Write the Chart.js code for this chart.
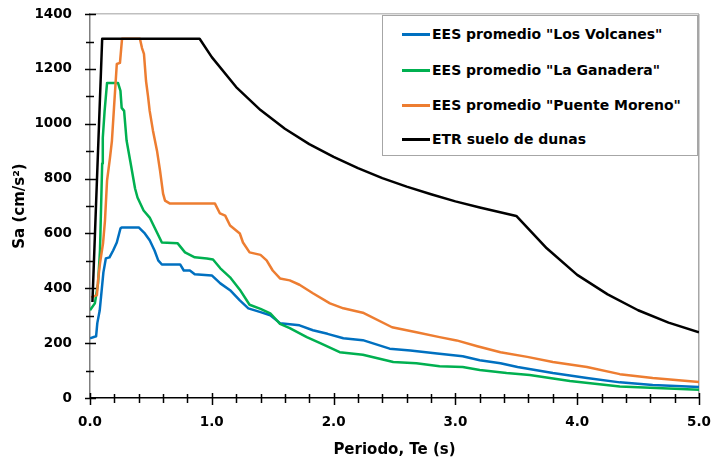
<!DOCTYPE html>
<html>
<head>
<meta charset="utf-8">
<title>Espectros</title>
<script src="https://cdn.jsdelivr.net/npm/chart.js@4.4.1/dist/chart.umd.min.js"></script>
<style>
  body { margin: 0; background: #fff; }
  #wrap { position: relative; width: 711px; height: 465px; }
  .legend {
    position: absolute; left: 382px; top: 15px; width: 316px; height: 141px;
    border: 1px solid #a6a6a6; background: #fff; box-sizing: border-box;
    font: bold 14px "DejaVu Sans"; color: #000;
  }
  .legend .row { position: absolute; left: 19px; height: 20px; line-height: 20px; white-space: nowrap; }
  .legend .sw { display: inline-block; width: 28px; height: 3px; vertical-align: middle; margin-right: 2px; position: relative; top: -1px; }
</style>
</head>
<body>
<div id="wrap">
  <canvas id="chart" width="711" height="465"></canvas>
  <div class="legend">
    <div class="row" style="top:8px"><span class="sw" style="background:#0070c0"></span>EES promedio "Los Volcanes"</div>
    <div class="row" style="top:44px"><span class="sw" style="background:#00b050"></span>EES promedio "La Ganadera"</div>
    <div class="row" style="top:79px"><span class="sw" style="background:#ed7d31"></span>EES promedio "Puente Moreno"</div>
    <div class="row" style="top:113px"><span class="sw" style="background:#000"></span>ETR suelo de dunas</div>
  </div>
</div>
<script>
"use strict"

// ---------------- data ----------------
const labels = ['EES promedio "Los Volcanes"', 'EES promedio "La Ganadera"', 'EES promedio "Puente Moreno"', "ETR suelo de dunas"];

const volcanesT  = [0, 0.05, 0.06, 0.08, 0.11, 0.13, 0.16, 0.19, 0.22, 0.25, 0.26, 0.40, 0.45, 0.49, 0.53, 0.56, 0.59, 0.74, 0.77, 0.82, 0.86, 1.0, 1.07, 1.15, 1.23, 1.30, 1.40, 1.48, 1.56, 1.72, 1.83, 1.95, 2.08, 2.24, 2.46, 2.63, 2.85, 3.06, 3.2, 3.37, 3.51, 3.8, 4.08, 4.35, 4.62, 5.0];
const volcanesSa = [218, 225, 273, 320, 458, 509, 513, 538, 567, 618, 622, 622, 600, 575, 538, 502, 487, 487, 465, 465, 451, 447, 418, 393, 356, 327, 313, 302, 273, 265, 247, 234, 218, 211, 180, 173, 162, 152, 138, 127, 113, 91, 73, 57, 47, 40];

const ganaderaT  = [0, 0.04, 0.066, 0.082, 0.1, 0.105, 0.12, 0.14, 0.23, 0.25, 0.26, 0.28, 0.30, 0.33, 0.37, 0.39, 0.44, 0.49, 0.53, 0.59, 0.72, 0.78, 0.86, 0.96, 1.01, 1.07, 1.15, 1.23, 1.31, 1.40, 1.48, 1.56, 1.64, 1.78, 1.89, 2.05, 2.24, 2.49, 2.68, 2.87, 3.06, 3.2, 3.42, 3.61, 3.94, 4.35, 5.0];
const ganaderaSa = [320, 345, 418, 538, 855, 949, 1047, 1149, 1149, 1120, 1058, 1047, 940, 865, 764, 731, 684, 658, 622, 567, 564, 531, 513, 509, 505, 473, 440, 395, 340, 325, 309, 270, 255, 222, 200, 167, 158, 131, 127, 116, 113, 102, 91, 84, 62, 42, 30];

const morenoT  = [0.01, 0.057, 0.066, 0.082, 0.107, 0.123, 0.14, 0.164, 0.18, 0.197, 0.22, 0.246, 0.263, 0.41, 0.427, 0.443, 0.46, 0.476, 0.49, 0.517, 0.55, 0.575, 0.6, 0.616, 0.657, 1.026, 1.067, 1.11, 1.15, 1.23, 1.256, 1.31, 1.40, 1.45, 1.50, 1.56, 1.64, 1.72, 1.83, 1.97, 2.08, 2.24, 2.48, 2.68, 2.87, 3.01, 3.18, 3.37, 3.59, 3.8, 4.08, 4.35, 4.62, 5.0];
const morenoSa = [367, 375, 429, 491, 564, 647, 793, 876, 938, 1058, 1218, 1222, 1310, 1310, 1276, 1255, 1156, 1102, 1047, 975, 902, 829, 745, 720, 709, 709, 673, 665, 629, 600, 567, 531, 522, 502, 465, 436, 429, 413, 382, 345, 327, 311, 258, 240, 222, 210, 189, 167, 150, 131, 113, 87, 73, 58];

const etrT  = [0.02, 0.1, 0.9, 1.0, 1.2, 1.4, 1.6, 1.8, 2.0, 2.2, 2.4, 2.6, 2.8, 3.0, 3.2, 3.5, 3.75, 4.0, 4.25, 4.5, 4.75, 5.0];
const etrSa = [350, 1310, 1310, 1243, 1134, 1050, 982, 926, 879, 838, 802, 771, 743, 717, 695, 664, 546, 449, 378, 320, 275, 240];

const colors = ["#0070c0", "#00b050", "#ed7d31", "#000000"];

const fontFamily = "DejaVu Sans";

const toPoints = (t, sa) => t.map((x, i) => ({ x: x, y: sa[i] }));
const isWhole = (v) => Math.abs(v - Math.round(v)) < 1e-6;

// Excel-like tick marks that cross the axis lines
const crossTicks = {
  id: "crossTicks",
  afterDraw(chart) {
    const ctx = chart.ctx;
    const xs = chart.scales.x;
    const ys = chart.scales.y;
    ctx.save();
    ctx.strokeStyle = "#000";
    ctx.lineWidth = 1.5;
    xs.ticks.forEach((t) => {
      const px = Math.round(xs.getPixelForValue(t.value)) + 0.5;
      const up = isWhole(t.value) ? 5 : 4;
      const down = isWhole(t.value) ? 7 : 5;
      ctx.beginPath();
      ctx.moveTo(px, xs.top - up);
      ctx.lineTo(px, xs.top + down);
      ctx.stroke();
    });
    ys.ticks.forEach((t) => {
      const py = Math.round(ys.getPixelForValue(t.value)) + 0.5;
      const big = Math.round(t.value) % 200 === 0;
      ctx.beginPath();
      ctx.moveTo(ys.right - (big ? 5 : 4), py);
      ctx.lineTo(ys.right + (big ? 6 : 4), py);
      ctx.stroke();
    });
    ctx.restore();
  }
};

const series = [
  toPoints(volcanesT, volcanesSa),
  toPoints(ganaderaT, ganaderaSa),
  toPoints(morenoT, morenoSa),
  toPoints(etrT, etrSa)
];

new Chart(document.querySelector("#chart"), {
  type: "line",
  data: {
    datasets: series.map((pts, i) => ({
      label: labels[i],
      data: pts,
      borderColor: colors[i],
      backgroundColor: colors[i],
      borderWidth: 2.5,
      pointRadius: 0,
      tension: 0,
      borderJoinStyle: "round",
      fill: false,
      order: 3 - i
    }))
  },
  options: {
    responsive: false,
    animation: false,
    layout: { padding: { left: 0, right: 12, top: 13, bottom: 0 } },
    plugins: {
      legend: { display: false },
      tooltip: { enabled: false }
    },
    scales: {
      x: {
        type: "linear",
        min: 0,
        max: 5,
        afterFit: (scale) => {
          scale.height = 67;
          scale.paddingLeft = 0;
          scale.paddingRight = 0;
        },
        ticks: {
          stepSize: 0.2,
          autoSkip: false,
          maxRotation: 0,
          padding: 6,
          color: "#000",
          font: { family: fontFamily, size: 13.5, weight: "bold" },
          callback: (v) => (isWhole(v) ? Number(v).toFixed(1) : "")
        },
        grid: {
          drawOnChartArea: true,
          color: (c) => (c.tick && Math.abs(c.tick.value - 5) < 1e-6 ? "#a6a6a6" : "rgba(0,0,0,0)"),
          lineWidth: 1.5,
          tickLength: 10,
          tickColor: "rgba(0,0,0,0)"
        },
        border: { color: "#000", width: 1.5 },
        title: {
          display: true,
          text: "Periodo, Te (s)",
          color: "#000",
          font: { family: fontFamily, size: 15, weight: "bold" },
          padding: { top: 0, bottom: 6 }
        }
      },
      y: {
        min: 0,
        max: 1400,
        afterFit: (scale) => { scale.width = 90; },
        ticks: {
          stepSize: 100,
          autoSkip: false,
          padding: 6,
          color: "#000",
          font: { family: fontFamily, size: 13.5, weight: "bold" },
          callback: (v) => (Math.round(v) % 200 === 0 ? v : "")
        },
        grid: {
          drawOnChartArea: true,
          color: (c) => (c.tick && c.tick.value === 1400 ? "#bfbfbf" : "rgba(0,0,0,0)"),
          lineWidth: 1.5,
          tickLength: 12,
          tickColor: "rgba(0,0,0,0)"
        },
        border: { color: "#7f7f7f", width: 1.5 },
        title: {
          display: true,
          text: "Sa (cm/s²)",
          color: "#000",
          font: { family: fontFamily, size: 15, weight: "bold" },
          padding: { top: 11, bottom: 0 }
        }
      }
    }
  },
  plugins: [crossTicks]
});
</script>
</body>
</html>
